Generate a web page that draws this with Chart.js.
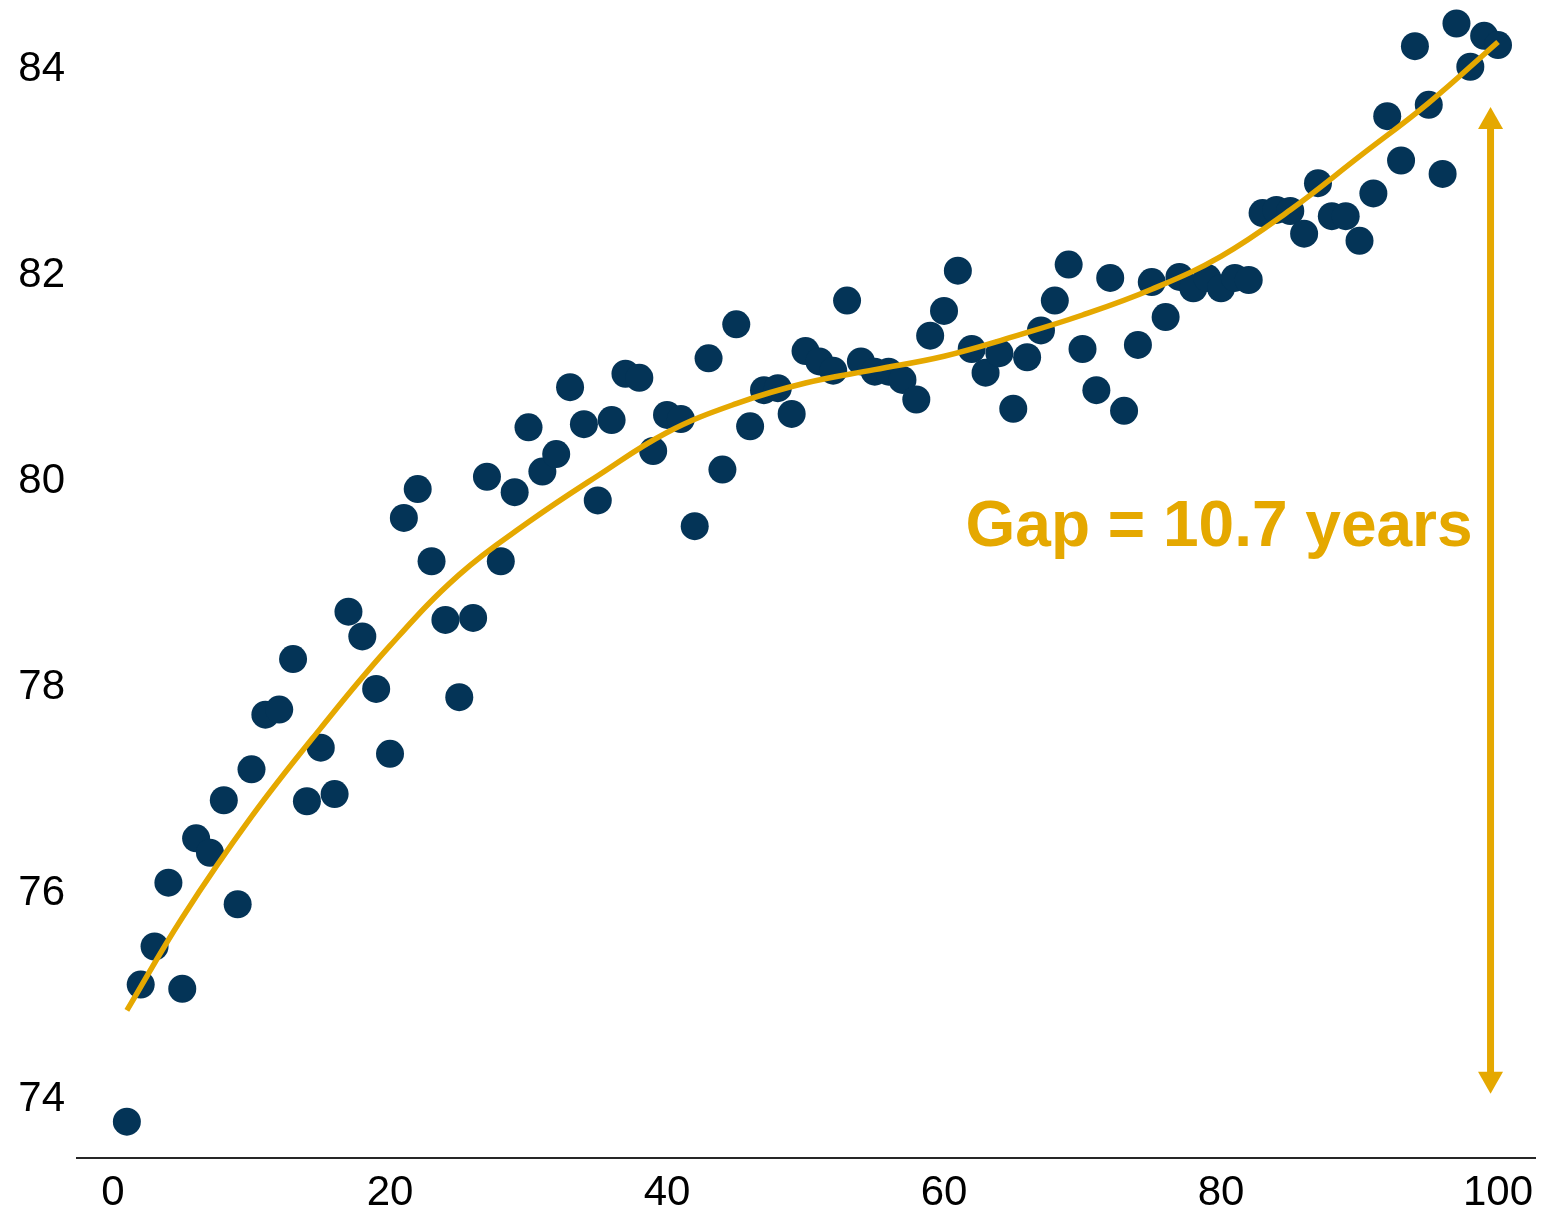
<!DOCTYPE html>
<html><head><meta charset="utf-8">
<script src="https://cdn.jsdelivr.net/npm/chart.js@4.4.1/dist/chart.umd.min.js"></script>
<style>html,body{margin:0;padding:0;background:#fff;}canvas{display:block;}</style>
</head><body>
<canvas id="c" width="1562" height="1212"></canvas>
<script>
// ---- Data ----
const percentiles = [1,2,3,4,5,6,7,8,9,10,11,12,13,14,15,16,17,18,19,20,
  21,22,23,24,25,26,27,28,29,30,31,32,33,34,35,36,37,38,39,40,
  41,42,43,44,45,46,47,48,49,50,51,52,53,54,55,56,57,58,59,60,
  61,62,63,64,65,66,67,68,69,70,71,72,73,74,75,76,77,78,79,80,
  81,82,83,84,85,86,87,88,89,90,91,92,93,94,95,96,97,98,99,100];
const lifeExpectancy = [73.76,75.09,75.46,76.08,75.05,76.51,76.37,76.88,75.87,77.18,
  77.71,77.76,78.25,76.87,77.39,76.94,78.71,78.47,77.96,77.33,
  79.62,79.90,79.20,78.63,77.88,78.65,80.02,79.20,79.87,80.50,
  80.07,80.24,80.89,80.53,79.79,80.57,81.02,80.98,80.27,80.62,
  80.58,79.54,81.17,80.09,81.50,80.51,80.86,80.88,80.63,81.24,
  81.14,81.05,81.73,81.14,81.04,81.04,80.96,80.77,81.39,81.63,
  82.02,81.26,81.03,81.22,80.68,81.18,81.44,81.73,82.08,81.26,
  80.86,81.95,80.66,81.30,81.91,81.57,81.96,81.85,81.95,81.85,
  81.95,81.93,82.58,82.61,82.60,82.38,82.87,82.55,82.55,82.31,
  82.77,83.52,83.09,84.20,83.63,82.96,84.42,84.00,84.30,84.21];
const trendX = [1,5,10,15,20,25,30,35,40,45,50,55,60,65,70,75,80,85,90,95,100];
const trendY = [74.84,75.74,76.72,77.58,78.38,79.07,79.58,80.03,80.45,80.73,80.93,81.06,81.19,81.38,81.59,81.84,82.16,82.61,83.13,83.65,84.24];
const xTickValues = [0,20,40,60,80,100];
const yTickValues = [74,76,78,80,82,84];
const gapLabel = 'Gap = 10.7 years';
const gapArrowX = 99.46;
const gapArrowTop = 83.61;
const gapArrowBottom = 74.03;
const gapLabelX = 79.86;
const gapLabelY = 79.35;

// ---- Styles ----
const NAVY = '#043457';
const GOLD = '#E5A800';
const FONT = '"Liberation Sans", Arial, Helvetica, sans-serif';

const gapPlugin = {
  id: 'gapAnnotation',
  afterDatasetsDraw(chart) {
    const {ctx, scales} = chart;
    const xs = scales.x, ys = scales.y;
    const px = xs.getPixelForValue(gapArrowX);
    const top = ys.getPixelForValue(gapArrowTop);
    const bot = ys.getPixelForValue(gapArrowBottom);
    const headLen = 22, headHalf = 12.5;
    ctx.save();
    ctx.strokeStyle = GOLD; ctx.fillStyle = GOLD; ctx.lineWidth = 7;
    ctx.beginPath(); ctx.moveTo(px, top + headLen - 2); ctx.lineTo(px, bot - headLen + 2); ctx.stroke();
    ctx.beginPath(); ctx.moveTo(px, top); ctx.lineTo(px - headHalf, top + headLen); ctx.lineTo(px + headHalf, top + headLen); ctx.closePath(); ctx.fill();
    ctx.beginPath(); ctx.moveTo(px, bot); ctx.lineTo(px - headHalf, bot - headLen); ctx.lineTo(px + headHalf, bot - headLen); ctx.closePath(); ctx.fill();
    ctx.font = 'bold 64px ' + FONT;
    ctx.textAlign = 'center'; ctx.textBaseline = 'alphabetic';
    ctx.fillText(gapLabel, xs.getPixelForValue(gapLabelX), ys.getPixelForValue(gapLabelY));
    ctx.restore();
  }
};

new Chart(document.getElementById('c'), {
  type: 'scatter',
  data: {
    datasets: [
      {
        label: 'Trend', type: 'line', showLine: true,
        data: trendX.map((v, i) => ({x: v, y: trendY[i]})),
        borderColor: GOLD, borderWidth: 5.5, pointRadius: 0, pointHoverRadius: 0,
        tension: 0.4, fill: false, clip: false, order: 0
      },
      {
        label: 'Life expectancy',
        data: percentiles.map((v, i) => ({x: v, y: lifeExpectancy[i]})),
        backgroundColor: NAVY, borderWidth: 0, pointRadius: 14, pointHoverRadius: 14,
        clip: false, order: 1
      }
    ]
  },
  options: {
    responsive: false, animation: false, devicePixelRatio: 1, events: [],
    layout: {autoPadding: false, padding: {left: 0, right: 27, top: 0, bottom: 0}},
    plugins: {legend: {display: false}, tooltip: {enabled: false}},
    scales: {
      x: {
        type: 'linear', position: 'bottom', min: -2.6, max: 102.67,
        afterBuildTicks: s => { s.ticks = xTickValues.map(v => ({value: v})); },
        afterFit: s => { s.height = 54; s.paddingLeft = 0; s.paddingRight = 0; },
        grid: {display: false, drawTicks: false},
        border: {display: true, color: '#262626', width: 2},
        ticks: {padding: 10, color: '#000', autoSkip: false, maxRotation: 0,
          font: {family: FONT, size: 42}, callback: v => String(v)}
      },
      y: {
        type: 'linear', position: 'left', min: 73.407, max: 84.648,
        afterBuildTicks: s => { s.ticks = yTickValues.map(v => ({value: v})); },
        afterFit: s => { s.width = 77; s.paddingTop = 0; s.paddingBottom = 0; },
        grid: {display: false, drawTicks: false},
        border: {display: false},
        ticks: {padding: 12, labelOffset: 3, color: '#000', autoSkip: false,
          font: {family: FONT, size: 42}, callback: v => String(v)}
      }
    }
  },
  plugins: [gapPlugin]
});
</script>
</body></html>
